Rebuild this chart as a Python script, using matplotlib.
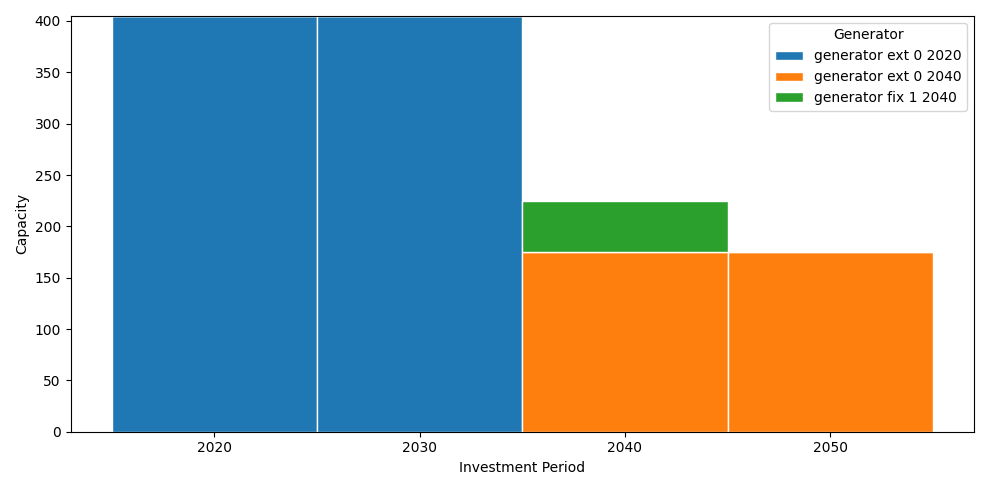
import matplotlib
matplotlib.use("Agg")
import matplotlib.pyplot as plt
import numpy as np

periods = ["2020", "2030", "2040", "2050"]
ext0_2020 = [405, 405, 0, 0]
ext0_2040 = [0, 0, 175, 175]
fix1_2040 = [0, 0, 50, 0]
series = [("generator ext 0 2020", ext0_2020, "#1f77b4"),
          ("generator ext 0 2040", ext0_2040, "#ff7f0e"),
          ("generator fix 1 2040", fix1_2040, "#2ca02c")]

fig, ax = plt.subplots(figsize=(9.89, 4.90), dpi=100)
x = np.arange(len(periods))
bottom = np.zeros(len(periods))
for name, vals, c in series:
    v = np.array(vals, dtype=float)
    ax.bar(x, v, width=1.0, bottom=bottom, color=c, edgecolor="white", label=name)
    bottom += v
ax.set_xticks(x)
ax.set_xticklabels(periods)
ax.set_xlabel("Investment Period")
ax.set_ylabel("Capacity")
ax.legend(title="Generator", loc="upper right")
fig.tight_layout()
fig.savefig("out.png")
